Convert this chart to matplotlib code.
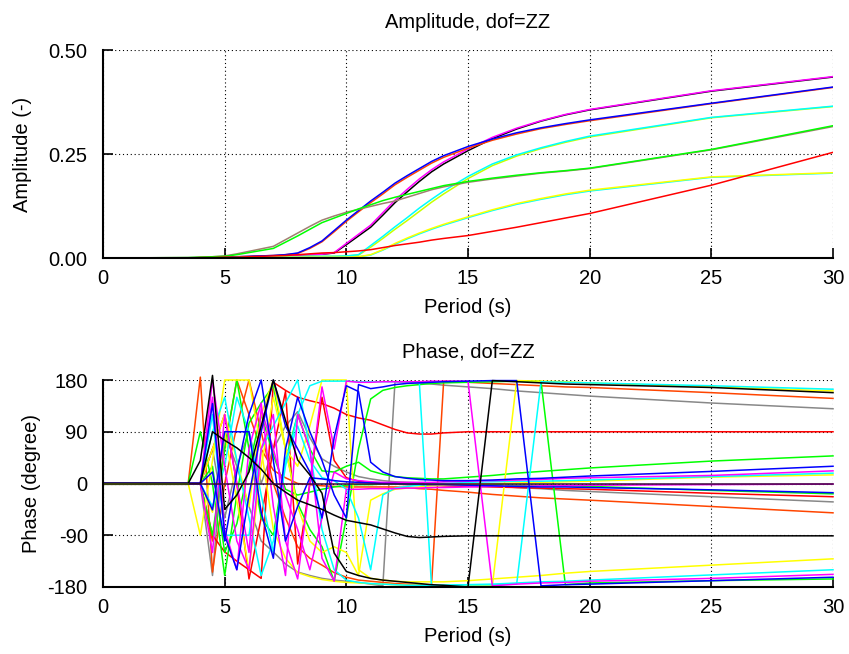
import numpy as np
import matplotlib.pyplot as plt

plt.rcParams['font.family'] = ['Liberation Sans', 'DejaVu Sans']
plt.rcParams['axes.unicode_minus'] = False

# period grid (s) shared by all curves
period = [0, 3.5, 4, 4.5, 5, 5.5, 6, 6.5, 7, 7.5, 8, 8.5, 9, 9.5, 10, 10.5,
          11, 11.5, 12, 12.5, 13, 13.5, 14, 15, 16, 17, 18, 19, 20, 25, 30]

# ---------------- amplitude (-) ----------------
amp_black = [0, 0, 0, 0, 0.001, 0.002, 0.003, 0.004, 0.005, 0.006, 0.007, 0.008, 0.009, 0.012, 0.032,
             0.053, 0.074, 0.103, 0.133, 0.159, 0.184, 0.207, 0.226, 0.258, 0.287, 0.310, 0.329, 0.344, 0.356, 0.401, 0.435]
amp_magenta = [0, 0, 0, 0, 0.001, 0.002, 0.003, 0.004, 0.005, 0.006, 0.007, 0.008, 0.009, 0.013, 0.035,
               0.057, 0.079, 0.109, 0.139, 0.165, 0.190, 0.212, 0.231, 0.262, 0.290, 0.312, 0.330, 0.345, 0.357, 0.402, 0.436]
amp_orange = [0, 0, 0, 0.001, 0.002, 0.003, 0.004, 0.005, 0.006, 0.008, 0.011, 0.023, 0.039, 0.063, 0.088,
              0.111, 0.133, 0.154, 0.176, 0.194, 0.211, 0.228, 0.242, 0.264, 0.283, 0.298, 0.311, 0.321, 0.330, 0.371, 0.410]
amp_blue = [0, 0, 0, 0.001, 0.002, 0.003, 0.004, 0.005, 0.006, 0.008, 0.012, 0.025, 0.041, 0.066, 0.091,
            0.114, 0.137, 0.158, 0.180, 0.198, 0.215, 0.232, 0.246, 0.268, 0.286, 0.301, 0.313, 0.323, 0.332, 0.372, 0.411]
amp_yelgreen = [0, 0, 0, 0, 0.001, 0.001, 0.002, 0.002, 0.003, 0.003, 0.003, 0.004, 0.004, 0.004, 0.005,
                0.007, 0.026, 0.047, 0.069, 0.090, 0.112, 0.134, 0.154, 0.191, 0.222, 0.245, 0.263, 0.278, 0.291, 0.337, 0.364]
amp_cyan = [0, 0, 0, 0, 0.001, 0.001, 0.002, 0.002, 0.003, 0.003, 0.003, 0.004, 0.004, 0.004, 0.005,
            0.008, 0.030, 0.052, 0.075, 0.097, 0.120, 0.141, 0.161, 0.196, 0.226, 0.248, 0.265, 0.280, 0.293, 0.338, 0.365]
amp_brown = [0, 0.001, 0.002, 0.003, 0.005, 0.010, 0.016, 0.022, 0.028, 0.044, 0.060, 0.076, 0.091, 0.101, 0.110,
             0.117, 0.124, 0.131, 0.137, 0.146, 0.155, 0.164, 0.171, 0.182, 0.190, 0.197, 0.204, 0.209, 0.215, 0.260, 0.316]
amp_green = [0, 0.001, 0.002, 0.003, 0.004, 0.008, 0.013, 0.018, 0.023, 0.038, 0.053, 0.069, 0.085, 0.096, 0.107,
             0.118, 0.128, 0.138, 0.146, 0.153, 0.160, 0.167, 0.174, 0.184, 0.192, 0.199, 0.205, 0.210, 0.216, 0.261, 0.318]
amp_cyan2 = [0, 0, 0, 0, 0, 0.001, 0.001, 0.001, 0.002, 0.002, 0.002, 0.002, 0.002, 0.002, 0.002,
             0.003, 0.007, 0.019, 0.033, 0.046, 0.058, 0.069, 0.079, 0.097, 0.114, 0.129, 0.141, 0.152, 0.161, 0.194, 0.204]
amp_yellow = [0, 0, 0, 0, 0, 0.001, 0.001, 0.001, 0.002, 0.002, 0.002, 0.002, 0.002, 0.002, 0.002,
              0.003, 0.008, 0.020, 0.035, 0.048, 0.060, 0.071, 0.081, 0.099, 0.116, 0.131, 0.143, 0.154, 0.163, 0.195, 0.205]
amp_red = [0, 0, 0.001, 0.001, 0.002, 0.002, 0.003, 0.004, 0.005, 0.006, 0.008, 0.010, 0.012, 0.013, 0.015,
           0.017, 0.020, 0.025, 0.030, 0.034, 0.038, 0.043, 0.047, 0.054, 0.064, 0.074, 0.085, 0.096, 0.107, 0.175, 0.254]
amp_zero = [0] * 31

amp_series = [
    (amp_black, 'black'), (amp_magenta, '#ff00ff'),
    (amp_orange, '#ff4500'), (amp_blue, '#0000ff'),
    (amp_yelgreen, '#c8ff00'), (amp_cyan, '#00ffff'),
    (amp_brown, '#a08070'), (amp_green, '#00ff00'),
    (amp_cyan2, '#00ffff'), (amp_yellow, '#ffff00'),
    (amp_red, '#ff0000'), (amp_zero, '#3c0a3c'),
]

# ---------------- phase (degree) ----------------
ph_cyan_top = [0, 0, 0, 120, -90, -90, -90, 60, 100, 140, 180, 60, -80, -150, -168, -172,
               -174, -175, -176, -177, -177, -177, -177, -176, -176, -175, 177, 176, 175, 170, 164]
ph_cyan_bot = [0, 0, 0, 90, 150, 40, -60, -160, -100, 30, 120, 170, 178, 178, 178, 177,
               177, 177, 177, 177, 176, -178, -177, -176, -175, -173, -171, -170, -168, -159, -150]
ph_cyan_pos = [0, 0, 0, -40, 30, 150, 90, -20, -120, 40, 100, 40, 10, 5, -10, -60,
               -150, -20, -8, -5, -3, -1, 0, 2, 3, 4, 4, 5, 6, 12, 18]
ph_yellow_top = [0, 0, -90, 40, 180, 180, 180, 60, -80, -130, -155, -162, -167, -170, -172, -173,
                 -174, -175, -176, -177, -177, -178, -178, -178, -178, 179, 178, 177, 175, 168, 161]
ph_yellow_bot = [0, 0, 0, 60, 120, 40, -40, 120, 180, 60, 30, 100, 180, 180, 180, -150,
                 -165, -168, -170, -171, -171, -171, -171, -169, -166, -163, -160, -156, -153, -142, -131]
ph_yellow_pos = [0, 0, 0, -50, 90, -30, -150, 30, 150, 60, -40, -100, -120, -110, -120, -160,
                 -29, -18, -10, -8, -6, -4, -3, -1, 0, 1, 2, 3, 4, 11, 15]
ph_black_top = [0, 0, 40, 188, -45, -20, 20, 100, 180, 110, 41, 15, -17, -121, -153, -160,
                -165, -168, -170, -172, -174, -176, -177, -180, 179, 177, 175, 173, 172, 167, 158]
ph_black_m90 = [0, 0, 0, 90, 75, 62, 45, 25, 0, -15, -29, -37, -45, -55, -64, -68,
                -72, -79, -86, -92, -94, -93, -92, -91, -91, -91, -91, -91, -91, -91, -91]
ph_orange_top = [0, 0, 185, -154, 0, 100, 180, 90, 0, -60, -110, -130, -142, -155, -163, -168,
                 -170, -172, -174, -175, -176, -177, 178, 176, 174, 172, 170, 168, 167, 158, 148]
ph_orange_neg = [0, 0, 0, -100, 60, 180, 120, 60, 23, 10, 0, -2, -4, -5, -6, -6,
                 -6, -6, -6, -7, -9, -10, -12, -15, -19, -22, -25, -27, -29, -40, -51]
ph_gray_top = [0, 0, 0, -160, 88, 30, -40, -100, -119, -140, -154, -160, -165, -168, -170, -172,
               -175, -178, 177, 176, 175, 173, 171, 168, 165, 161, 158, 155, 152, 140, 130]
ph_gray_neg = [0, 0, 0, 60, -60, 30, 90, 0, 60, 100, 125, 80, 43, 30, 20, 12,
               8, 5, 3, 2, 1, 0, 0, -2, -4, -7, -9, -12, -14, -23, -32]
ph_magenta_bot = [0, 0, 0, 180, 30, -100, -150, 60, 120, -100, -166, 0, 168, 60, 178, 176,
                  176, 177, 177, 177, 177, 178, 178, 178, -178, -175, -173, -172, -170, -165, -158]
ph_magenta_pos = [0, 0, 0, -120, 120, 0, -120, 130, 60, -20, -80, -150, -60, 20, 8, 5,
                  3, 2, 2, 2, 2, 2, 3, 4, 5, 6, 7, 9, 10, 14, 22]
ph_magenta_neg = [0, 0, 0, 150, -80, -150, 60, 140, -40, -160, 120, 60, -130, -170, -10, -10,
                  -9, -9, -9, -8, -8, -7, -7, -6, -5, -5, -4, -4, -3, -2, -1]
ph_blue_bot = [0, 0, 0, -46, 90, 90, 90, -50, -130, 60, 150, 90, 40, -20, -60, 172,
               165, 168, 172, 174, 175, 176, 177, 178, 179, 179, -178, -176, -175, -169, -163]
ph_blue_pos = [0, 0, 0, 139, -90, -150, -20, 90, 180, 100, 60, 20, -60, 80, 170, 160,
               37, 20, 12, 9, 7, 6, 5, 5, 6, 8, 9, 11, 13, 21, 30]
ph_blue_neg = [0, 0, 0, 20, -100, 20, 120, 180, 40, -100, -40, 10, 8, 5, 3, 2,
               1, 0, 0, -1, -1, -2, -2, -3, -4, -5, -6, -6, -7, -11, -16]
ph_green_bot = [0, 0, 90, 0, -160, -20, 105, 140, 170, 60, -35, -80, -110, -170, -60, 60,
                147, 162, 167, 170, 172, 174, 175, 176, 177, 178, 178, -176, -173, -169, -166]
ph_green_pos = [0, 0, 0, -90, 60, 180, 60, -60, -90, 40, 120, 60, 22, 20, 30, 37,
                22, 16, 12, 10, 9, 8, 8, 11, 14, 18, 21, 24, 27, 39, 48]
ph_green_neg = [0, 0, 0, 30, -120, -70, 30, 120, 50, -10, -20, -15, -10, -6, -3, -2,
                -2, -1, -1, -1, -1, -1, -1, -2, -2, -3, -3, -4, -5, -12, -18]
ph_red_p90 = [0, 0, 0, -90, -119, -135, -150, -165, 176, 162, 150, 144, 139, 131, 120, 114,
              110, 102, 94, 88, 86, 86, 88, 90, 90, 90, 90, 90, 90, 90, 90]
ph_red_neg = [0, 0, 0, 60, 120, 0, -166, -60, 60, 160, -140, 0, 150, 40, 10, 4,
              2, 0, -1, -2, -3, -3, -4, -5, -6, -7, -8, -9, -10, -17, -23]
ph_zero = [0] * 31
olive_period = [0, 3.5]
olive_zero = [0, 0]

ph_series = [
    (ph_gray_top, '#888888'), (ph_gray_neg, '#888888'),
    (ph_orange_top, '#ff4500'), (ph_orange_neg, '#ff4500'),
    (ph_red_p90, '#ff0000'), (ph_red_neg, '#ff0000'),
    (ph_green_bot, '#00ff00'), (ph_green_pos, '#00ff00'), (ph_green_neg, '#00ff00'),
    (ph_yellow_top, '#ffff00'), (ph_yellow_bot, '#ffff00'), (ph_yellow_pos, '#ffff00'),
    (ph_cyan_top, '#00ffff'), (ph_cyan_bot, '#00ffff'), (ph_cyan_pos, '#00ffff'),
    (ph_magenta_bot, '#ff00ff'), (ph_magenta_pos, '#ff00ff'), (ph_magenta_neg, '#ff00ff'),
    (ph_blue_bot, '#0000ff'), (ph_blue_pos, '#0000ff'), (ph_blue_neg, '#0000ff'),
    (ph_black_top, 'black'), (ph_black_m90, 'black'),
    (ph_zero, '#3c0a3c'),
]

fig = plt.figure(figsize=(8.49, 6.54), dpi=100)
ax1 = fig.add_axes([103 / 849, 1 - 258 / 654, 730 / 849, 208 / 654])
ax2 = fig.add_axes([103 / 849, 1 - 587 / 654, 730 / 849, 207 / 654])

for y, c in amp_series:
    ax1.plot(period, y, color=c, lw=1.1)
for y, c in ph_series:
    ax2.plot(period, y, color=c, lw=1.1, clip_on=False)
ax2.plot(olive_period, olive_zero, color='#3a4010', lw=1.6)


def style(ax):
    ax.set_xlim(0, 30)
    ax.set_xticks(range(0, 31, 5))
    ax.grid(True, color='black', linestyle=(0, (1, 2.5)), linewidth=0.8)
    ax.spines['top'].set_visible(False)
    ax.spines['right'].set_visible(False)
    ax.spines['left'].set_linewidth(1.5)
    ax.spines['bottom'].set_linewidth(1.5)
    ax.tick_params(direction='in', length=7, width=1.2, labelsize=14.5, pad=8)
    ax.tick_params(axis='y', pad=11)
    ax.set_xlabel('Period (s)', fontsize=14.5, labelpad=7)


style(ax1)
ax1.set_ylim(0, 0.5)
ax1.set_yticks([0, 0.25, 0.5])
ax1.set_yticklabels(['0.00', '0.25', '0.50'])
ax1.set_ylabel('Amplitude (-)', fontsize=14.5, labelpad=12)
ax1.set_title('Amplitude, dof=ZZ', fontsize=14.5, pad=16)

style(ax2)
ax2.set_ylim(-180, 180)
ax2.set_yticks([-180, -90, 0, 90, 180])
ax2.set_ylabel('Phase (degree)', fontsize=14.5, labelpad=5)
ax2.set_title('Phase, dof=ZZ', fontsize=14.5, pad=16)

plt.savefig('out.png', dpi=100)
